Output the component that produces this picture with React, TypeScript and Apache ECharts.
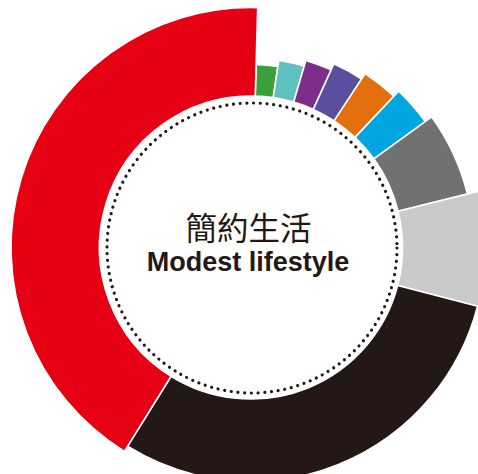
import React, { useEffect, useRef } from "react";
import * as echarts from "echarts";

// Segment data (share of the ring), clockwise from the top
const categories = [
  "green", "teal", "purple", "indigo", "orange", "blue",
  "dark gray", "light gray", "black", "red",
];
const values = [1.9, 2.2, 2.2, 2.5, 2.8, 3.0, 6.1, 7.9, 29.8, 41.6];

// Styles (not data)
const colors = [
  "#3AA13A", "#5FC1BF", "#7F2D8B", "#5A4F9F", "#E3700D", "#00A5E2",
  "#727171", "#C9CACA", "#231815", "#E60013",
];
const outerRadii = [183, 189, 195, 201.5, 208, 215, 223, 237, 234, 240];
const titleZh = "簡約生活";
const titleEn = "Modest lifestyle";

export default function App() {
  const ref = useRef<HTMLDivElement>(null);
  useEffect(() => {
    if (!ref.current) return;
    const chart = echarts.init(ref.current, null, { renderer: "svg" });
    const cx = 251;
    const cy = 247.5;
    const series = categories.map((_, i) => ({
      type: "pie",
      center: [cx, cy],
      radius: [151.5, outerRadii[i]],
      startAngle: 88.4,
      clockwise: true,
      silent: true,
      label: { show: false },
      labelLine: { show: false },
      emphasis: { disabled: true },
      data: categories.map((name, j) => ({
        name,
        value: values[j],
        itemStyle:
          j === i
            ? { color: colors[j], borderColor: "#ffffff", borderWidth: 1.6 }
            : { color: "rgba(0,0,0,0)", borderWidth: 0 },
      })),
    }));
    chart.setOption({
      animation: false,
      backgroundColor: "#ffffff",
      series,
      graphic: [
        {
          type: "circle",
          shape: { cx: 252, cy: 248, r: 145 },
          silent: true,
          style: {
            fill: "none",
            stroke: "#231815",
            lineWidth: 3.2,
            lineDash: [0.01, 6.7],
            lineCap: "round",
          },
        },
        {
          type: "text",
          x: 248.5,
          y: 226,
          style: {
            text: titleZh,
            fill: "#231815",
            font: '400 31.5px "Noto Sans CJK TC"',
            align: "center",
            verticalAlign: "middle",
          },
        },
        {
          type: "text",
          x: 248,
          y: 262,
          style: {
            text: titleEn,
            fill: "#231815",
            font: 'bold 27px "Liberation Sans", Arial, sans-serif',
            align: "center",
            verticalAlign: "middle",
          },
        },
      ],
    });
    return () => chart.dispose();
  }, []);
  return (
    <div
      ref={ref}
      style={{ position: "absolute", left: 0, top: 0, width: 478, height: 474 }}
    />
  );
}
